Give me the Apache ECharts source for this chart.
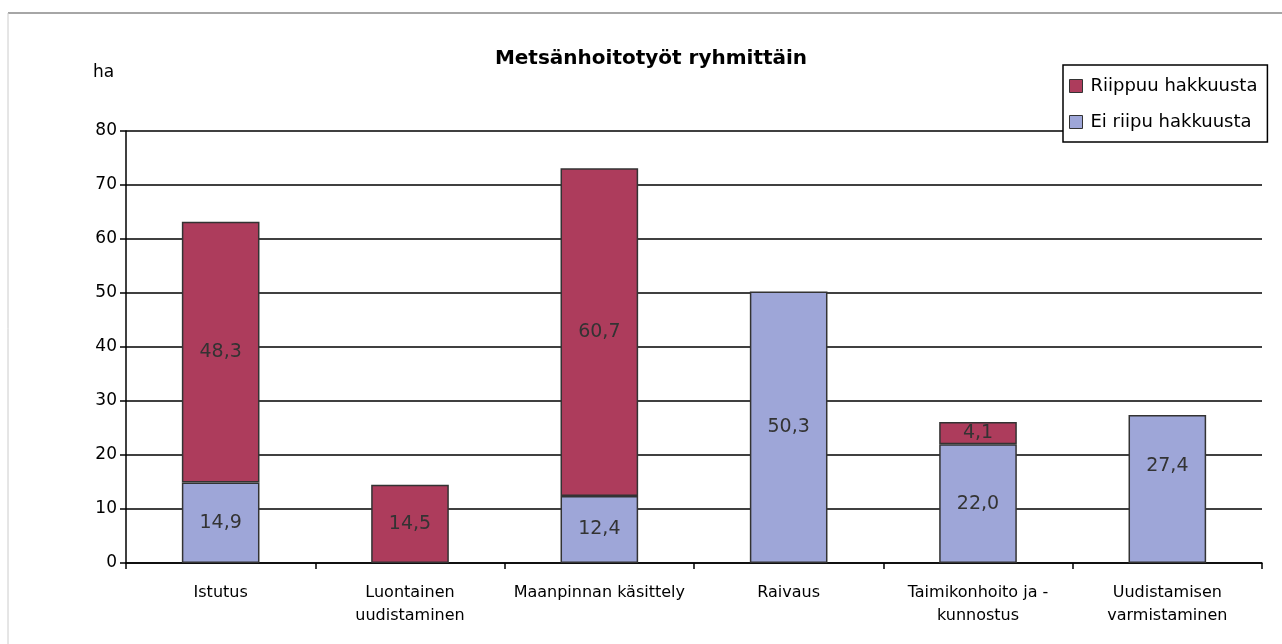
<!DOCTYPE html>
<html><head><meta charset="utf-8">
<script src="https://cdn.jsdelivr.net/npm/echarts@6/dist/echarts.min.js"></script>
<style>html,body{margin:0;padding:0;background:#fff}#c{width:1282px;height:644px}</style>
</head><body><div id="c"></div>
<script>
const categories = ['Istutus', 'Luontainen\nuudistaminen', 'Maanpinnan käsittely', 'Raivaus', 'Taimikonhoito ja -\nkunnostus', 'Uudistamisen\nvarmistaminen'];
const riippuu = [48.3, 14.5, 60.7, null, 4.1, null];
const eiRiipu = [14.9, null, 12.4, 50.3, 22.0, 27.4];
const yTicks = [0, 10, 20, 30, 40, 50, 60, 70, 80];

const FONT = 'DejaVu Sans, Arial';
const chart = echarts.init(document.getElementById('c'));
const fmt = p => (p.value == null ? '' : Number(p.value).toFixed(1).replace('.', ','));
const lbl = {show: true, position: 'inside', color: '#333', fontFamily: FONT, fontSize: 19, formatter: fmt};
// last bar's label sits higher in the reference
const eiRiipuData = eiRiipu.map((v, i) => i === eiRiipu.length - 1 ? {value: v, label: {offset: [0, -23]}} : v);
chart.setOption({
  animation: false,
  backgroundColor: '#fff',
  title: {text: 'Metsänhoitotyöt ryhmittäin', left: 646, top: 44, textAlign: 'center',
    textStyle: {fontFamily: FONT, fontSize: 20, fontWeight: 'bold', color: '#000'}},
  graphic: [
    {type: 'text', left: 93, top: 64, style: {text: 'ha', fontFamily: FONT, fontSize: 17, fill: '#000'}},
    {type: 'line', shape: {x1: 8, y1: 13, x2: 1282, y2: 13}, style: {stroke: '#888', lineWidth: 1.5}},
    {type: 'line', shape: {x1: 8, y1: 13, x2: 8, y2: 644}, style: {stroke: '#ccc', lineWidth: 1}}
  ],
  legend: {
    orient: 'vertical', left: 1063, top: 65,
    data: ['Riippuu hakkuusta', 'Ei riipu hakkuusta'],
    backgroundColor: '#fff', borderColor: '#000', borderWidth: 1.5, borderRadius: 0,
    padding: [12, 10, 11, 6], itemGap: 18, itemWidth: 13, itemHeight: 13,
    icon: 'rect', itemStyle: {borderColor: '#333', borderWidth: 1},
    textStyle: {fontFamily: FONT, fontSize: 18, color: '#000', padding: [0, 0, 0, 3]}
  },
  grid: {left: 126, right: 20, top: 131, bottom: 81, containLabel: false},
  xAxis: {
    type: 'category', data: categories,
    axisLine: {lineStyle: {color: '#000', width: 1.5}},
    axisTick: {show: true, length: 6, lineStyle: {color: '#000', width: 1.5}},
    axisLabel: {color: '#000', fontFamily: FONT, fontSize: 16, margin: 18, lineHeight: 23, interval: 0}
  },
  yAxis: {
    type: 'value', min: 0, max: 80, interval: 10,
    axisLine: {show: true, lineStyle: {color: '#000', width: 1.5}},
    axisTick: {show: true, length: 6, lineStyle: {color: '#000', width: 1.5}},
    axisLabel: {color: '#000', fontFamily: FONT, fontSize: 17, margin: 9,
      formatter: v => yTicks.includes(v) ? String(v) : ''},
    splitLine: {show: true, lineStyle: {color: '#000', width: 1.5}}
  },
  series: [
    {name: 'Ei riipu hakkuusta', type: 'bar', stack: 'a', data: eiRiipuData, barWidth: '41%',
      itemStyle: {color: '#9ea6d8', borderColor: '#333', borderWidth: 1.5}, label: lbl, z: 3},
    {name: 'Riippuu hakkuusta', type: 'bar', stack: 'a', data: riippuu, barWidth: '41%',
      itemStyle: {color: '#ad3c5c', borderColor: '#333', borderWidth: 1.5}, label: lbl, z: 3}
  ]
});
</script></body></html>
